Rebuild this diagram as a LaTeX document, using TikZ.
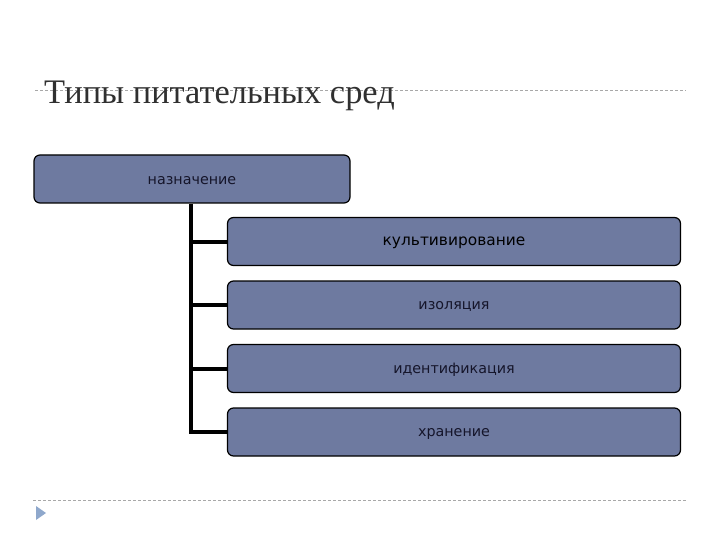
\documentclass[tikz,border=0pt]{standalone}
\usepackage{fontspec}
\setmainfont{Liberation Serif}
\newfontfamily\boxfont{DejaVu Sans}
\definecolor{boxfill}{HTML}{6E7AA0}
\definecolor{boxtext}{HTML}{15152A}
\definecolor{rulegray}{HTML}{A8A8A8}
\definecolor{tri}{HTML}{8FA8CC}
\definecolor{titlecol}{HTML}{303030}
\begin{document}
\begin{tikzpicture}[x=1pt,y=-1pt,
  sbox/.style={draw=black, line width=1.2pt, fill=boxfill, rounded corners=6pt, inner sep=0pt},
  conn/.style={line width=4pt, black},
  lbl/.style={font=\boxfont\fontsize{14.3}{17}\selectfont, text=boxtext}]
\useasboundingbox (0,0) rectangle (720,540);
% title and rules
\draw[rulegray, dashed, dash pattern=on 3pt off 2pt, line width=0.8pt] (35,90) -- (686,90);
\node[anchor=base west, inner sep=0pt, text=titlecol, font=\fontsize{34.4}{38}\selectfont] (title) at (44,104) {Типы питательных сред};
\draw[rulegray, dashed, dash pattern=on 3pt off 2pt, line width=0.8pt] (33,500) -- (686,500);
\fill[tri] (36,506) -- (46,513) -- (36,520) -- cycle;
% boxes
\node[sbox, minimum width=316pt, minimum height=48pt] (root) at (192,179) {};
\node[lbl] at ([yshift=-1.5pt]root.center) {назначение};
\node[sbox, minimum width=453pt, minimum height=48pt] (c1) at (454,241.5) {};
\node[lbl, font=\boxfont\fontsize{15.4}{18}\selectfont, text=black] at ([yshift=-1.5pt]c1.center) {культивирование};
\node[sbox, minimum width=453pt, minimum height=48pt] (c2) at (454,305) {};
\node[lbl] at ([yshift=-1.5pt]c2.center) {изоляция};
\node[sbox, minimum width=453pt, minimum height=48pt] (c3) at (454,368.5) {};
\node[lbl] at ([yshift=-1.5pt]c3.center) {идентификация};
\node[sbox, minimum width=453pt, minimum height=48pt] (c4) at (454,432) {};
\node[lbl] at ([yshift=-1.5pt]c4.center) {хранение};
% connectors
\coordinate (trunk) at (191,203);
\draw[conn] (root.south -| trunk) -- (trunk |- c4.west) -- (c4.west);
\draw[conn] (trunk |- c1.west) -- (c1.west);
\draw[conn] (trunk |- c2.west) -- (c2.west);
\draw[conn] (trunk |- c3.west) -- (c3.west);
\end{tikzpicture}
\end{document}
